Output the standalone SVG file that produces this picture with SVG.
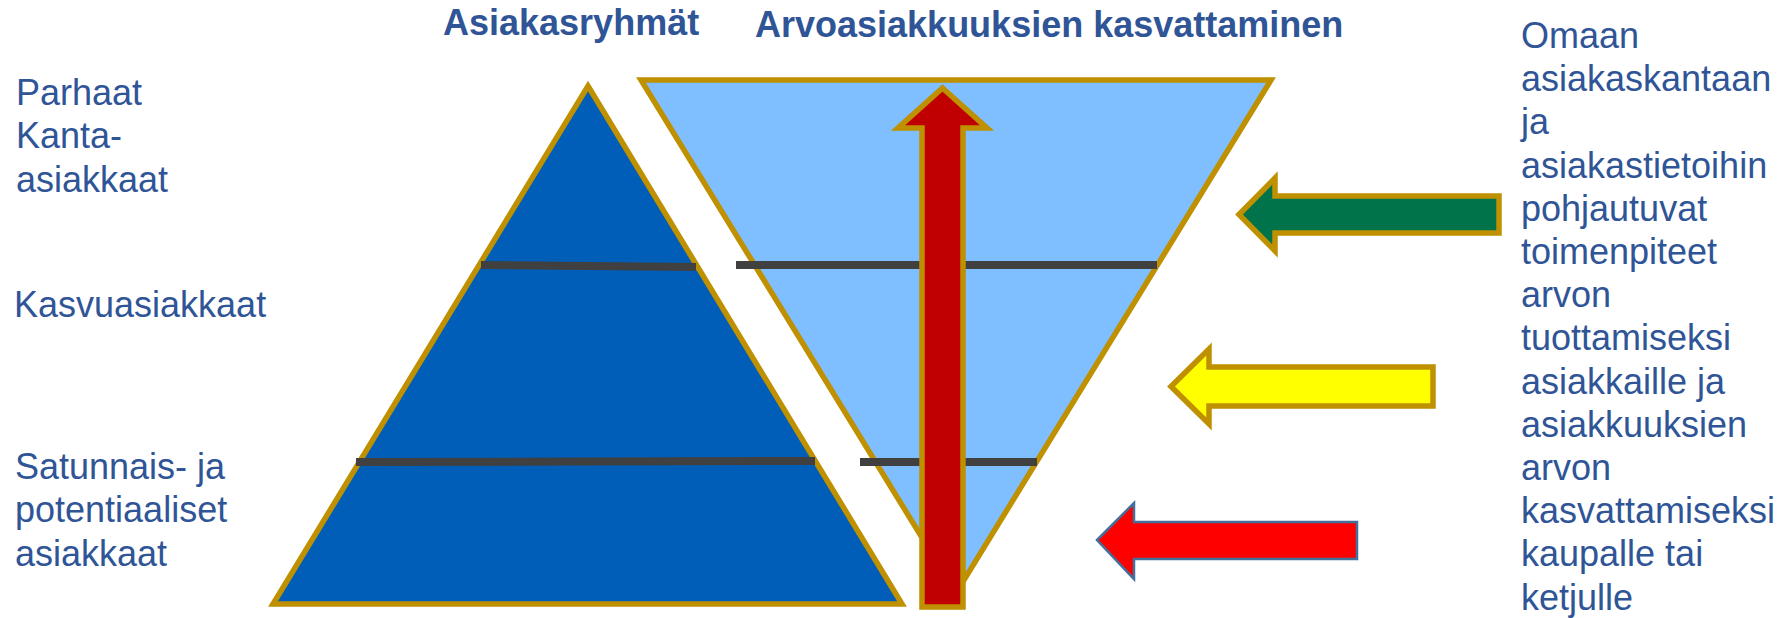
<svg xmlns="http://www.w3.org/2000/svg" width="1781" height="618" viewBox="0 0 1781 618">
  <style>
    .lbl { font-family: "Liberation Sans", Arial, sans-serif; font-size: 36px; fill: #2F5597; }
    .ttl { font-family: "Liberation Sans", Arial, sans-serif; font-size: 36px; font-weight: bold; fill: #2F5597; }
    .gold { stroke: #BF9000; stroke-width: 5.5; stroke-linejoin: miter; }
    .sep { stroke: #404040; stroke-width: 8; fill: none; }
  </style>
  <rect width="1781" height="618" fill="#FFFFFF"/>

  <g id="title-asiakasryhmat">
    <text class="ttl" x="443" y="35">Asiakasryhmät</text>
  </g>
  <g id="title-arvoasiakkuuksien">
    <text class="ttl" x="755" y="37">Arvoasiakkuuksien kasvattaminen</text>
  </g>

  <g id="labels-left">
    <text class="lbl" x="16" y="105">Parhaat</text>
    <text class="lbl" x="16" y="148">Kanta-</text>
    <text class="lbl" x="16" y="192">asiakkaat</text>
    <text class="lbl" x="14" y="317">Kasvuasiakkaat</text>
    <text class="lbl" x="15" y="479">Satunnais- ja</text>
    <text class="lbl" x="15" y="522">potentiaaliset</text>
    <text class="lbl" x="15" y="566">asiakkaat</text>
  </g>

  <g id="pyramid">
    <polygon class="gold" points="588,86 902,604 273,604" fill="#005EB8"/>
  </g>

  <g id="funnel">
    <polygon class="gold" points="641,80 1271,80 956,593" fill="#7FBFFF"/>
  </g>

  <g id="separators">
    <line class="sep" x1="481" y1="265" x2="696" y2="267"/>
    <line class="sep" x1="356" y1="462" x2="815" y2="461"/>
    <line class="sep" x1="736" y1="265" x2="1157" y2="265"/>
    <line class="sep" x1="860" y1="462" x2="1037" y2="462"/>
  </g>

  <g id="connectors">
    <g id="arrow-up">
      <polygon class="gold" fill="#C00000" points="942.5,88 987,128 963,128 963,607 922,607 922,128 898,128"/>
    </g>
    <g id="arrow-green">
      <polygon class="gold" fill="#00734A" points="1239,214.5 1275,178 1275,196 1499,196 1499,233 1275,233 1275,251"/>
    </g>
    <g id="arrow-yellow">
      <polygon class="gold" fill="#FFFF00" points="1171,386.5 1209,349 1209,367 1433,367 1433,406 1209,406 1209,424"/>
    </g>
    <g id="arrow-red">
      <polygon fill="#FF0000" stroke="#41719C" stroke-width="2.5" points="1097,540 1134,503 1134,522 1357,522 1357,559 1134,559 1134,579"/>
    </g>
  </g>

  <g id="labels-right">
    <text class="lbl" x="1521" y="48">Omaan</text>
    <text class="lbl" x="1521" y="91.2">asiakaskantaan</text>
    <text class="lbl" x="1521" y="134.4">ja</text>
    <text class="lbl" x="1521" y="177.6">asiakastietoihin</text>
    <text class="lbl" x="1521" y="220.8">pohjautuvat</text>
    <text class="lbl" x="1521" y="264">toimenpiteet</text>
    <text class="lbl" x="1521" y="307.2">arvon</text>
    <text class="lbl" x="1521" y="350.4">tuottamiseksi</text>
    <text class="lbl" x="1521" y="393.6">asiakkaille ja</text>
    <text class="lbl" x="1521" y="436.8">asiakkuuksien</text>
    <text class="lbl" x="1521" y="480">arvon</text>
    <text class="lbl" x="1521" y="523.2">kasvattamiseksi</text>
    <text class="lbl" x="1521" y="566.4">kaupalle tai</text>
    <text class="lbl" x="1521" y="609.6">ketjulle</text>
  </g>
</svg>
